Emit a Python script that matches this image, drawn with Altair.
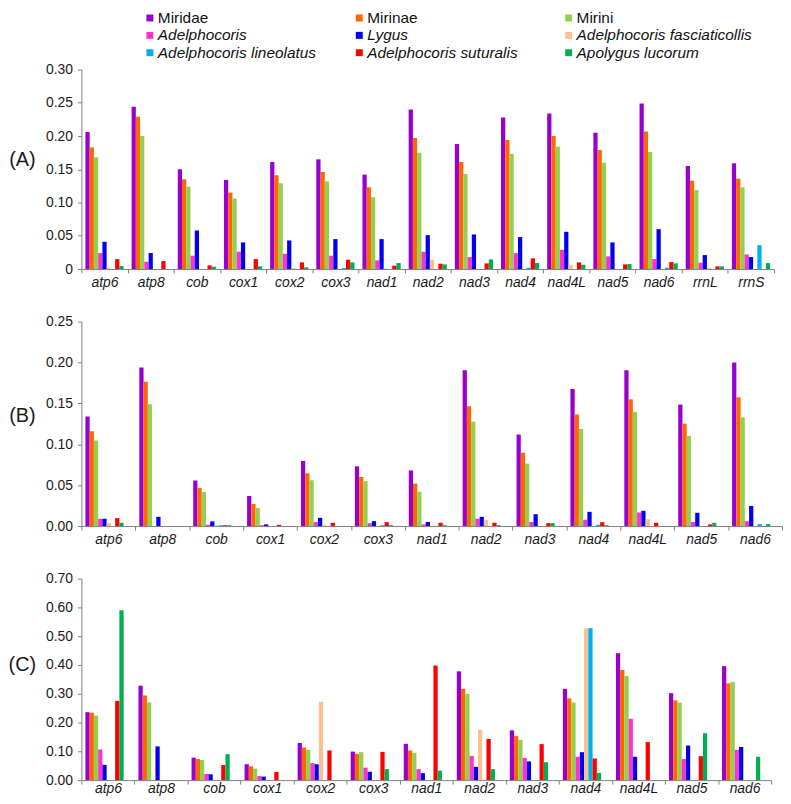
import altair as alt
import pandas as pd

SERIES = ["Miridae", "Mirinae", "Mirini", "Adelphocoris", "Lygus",
          "Adelphocoris fasciaticollis", "Adelphocoris lineolatus",
          "Adelphocoris suturalis", "Apolygus lucorum"]
COLORS = ["#9900cc", "#ff6600", "#92d050", "#ff33cc", "#0000ee",
          "#fac090", "#00b0f0", "#ff0000", "#00b050"]
ITALIC = [False, False, False, True, True, True, True, True, True]
LEG_COL = [0, 1, 2, 0, 1, 2, 0, 1, 2]
LEG_ROW = [0, 0, 0, 1, 1, 1, 2, 2, 2]

GENES_A = ["atp6", "atp8", "cob", "cox1", "cox2", "cox3", "nad1", "nad2", "nad3",
           "nad4", "nad4L", "nad5", "nad6", "rrnL", "rrnS"]
GENES_BC = ["atp6", "atp8", "cob", "cox1", "cox2", "cox3", "nad1", "nad2", "nad3",
            "nad4", "nad4L", "nad5", "nad6"]

# Panel A (one list per series, in gene order)
A_MIRIDAE = [0.206, 0.244, 0.150, 0.134, 0.161, 0.165, 0.142, 0.240, 0.188, 0.228, 0.234, 0.205, 0.249, 0.155, 0.159]
A_MIRINAE = [0.183, 0.229, 0.135, 0.115, 0.141, 0.146, 0.123, 0.197, 0.161, 0.194, 0.200, 0.179, 0.207, 0.133, 0.136]
A_MIRINI = [0.168, 0.200, 0.124, 0.106, 0.129, 0.132, 0.108, 0.175, 0.143, 0.173, 0.184, 0.160, 0.176, 0.119, 0.123]
A_ADEL = [0.024, 0.011, 0.020, 0.026, 0.023, 0.020, 0.013, 0.026, 0.018, 0.024, 0.029, 0.019, 0.015, 0.0095, 0.022]
A_LYGUS = [0.041, 0.024, 0.058, 0.040, 0.043, 0.045, 0.045, 0.051, 0.052, 0.048, 0.056, 0.040, 0.060, 0.021, 0.018]
A_AFASC = [0.002, 0, 0, 0, 0.0015, 0, 0.001, 0.014, 0, 0, 0.0065, 0, 0, 0.002, 0]
A_ALIN = [0, 0, 0, 0, 0, 0.0015, 0, 0, 0, 0.002, 0, 0, 0.002, 0, 0.036]
A_ASUT = [0.015, 0.012, 0.0055, 0.015, 0.010, 0.014, 0.005, 0.008, 0.0085, 0.016, 0.010, 0.007, 0.0105, 0.004, 0]
A_APOL = [0.0045, 0, 0.0035, 0.004, 0.0025, 0.010, 0.009, 0.007, 0.0145, 0.009, 0.0065, 0.0075, 0.0085, 0.004, 0.009]

# Panel B
B_MIRIDAE = [0.134, 0.194, 0.0557, 0.0368, 0.0796, 0.073, 0.068, 0.1906, 0.1119, 0.1676, 0.1906, 0.1486, 0.200]
B_MIRINAE = [0.116, 0.1765, 0.0464, 0.027, 0.0646, 0.060, 0.052, 0.1466, 0.0897, 0.1365, 0.155, 0.1252, 0.1575]
B_MIRINI = [0.1046, 0.149, 0.0416, 0.022, 0.056, 0.055, 0.042, 0.1276, 0.0763, 0.1187, 0.1397, 0.1103, 0.1329]
B_ADEL = [0.0089, 0, 0.0016, 0.001, 0.005, 0.0036, 0.002, 0.0089, 0.005, 0.0077, 0.0166, 0.005, 0.006]
B_LYGUS = [0.0089, 0.0113, 0.0057, 0.002, 0.010, 0.006, 0.005, 0.0113, 0.0145, 0.0174, 0.0186, 0.0162, 0.0246]
B_AFASC = [0.0036, 0, 0.001, 0, 0.001, 0, 0, 0.0077, 0, 0, 0.0085, 0, 0]
B_ALIN = [0, 0, 0.001, 0, 0, 0.001, 0, 0, 0, 0.0016, 0, 0, 0.0024]
B_ASUT = [0.0097, 0, 0.001, 0.0015, 0.004, 0.0048, 0.004, 0.004, 0.0036, 0.0048, 0.004, 0.002, 0]
B_APOL = [0.004, 0, 0.001, 0, 0, 0.001, 0.001, 0.001, 0.0036, 0.001, 0, 0.004, 0.0024]

# Panel C
C_MIRIDAE = [0.236, 0.328, 0.078, 0.055, 0.129, 0.099, 0.126, 0.378, 0.173, 0.317, 0.441, 0.302, 0.396]
C_MIRINAE = [0.234, 0.294, 0.073, 0.048, 0.113, 0.091, 0.103, 0.317, 0.153, 0.284, 0.383, 0.277, 0.336]
C_MIRINI = [0.224, 0.270, 0.070, 0.040, 0.105, 0.097, 0.095, 0.300, 0.140, 0.270, 0.362, 0.269, 0.341]
C_ADEL = [0.106, 0, 0.021, 0.014, 0.059, 0.043, 0.038, 0.084, 0.077, 0.081, 0.213, 0.073, 0.105]
C_LYGUS = [0.053, 0.117, 0.020, 0.012, 0.055, 0.029, 0.024, 0.046, 0.065, 0.097, 0.081, 0.120, 0.115]
C_AFASC = [0, 0, 0, 0, 0.272, 0, 0, 0.174, 0, 0.528, 0, 0, 0]
C_ALIN = [0, 0, 0, 0, 0, 0, 0, 0, 0, 0.528, 0, 0, 0]
C_ASUT = [0.275, 0, 0.052, 0.028, 0.103, 0.098, 0.398, 0.143, 0.125, 0.075, 0.132, 0.083, 0]
C_APOL = [0.590, 0, 0.090, 0, 0, 0.038, 0.033, 0.038, 0.062, 0.025, 0, 0.163, 0.081]

Y_A = [0, 0.05, 0.10, 0.15, 0.20, 0.25, 0.30]
Y_B = [0, 0.05, 0.10, 0.15, 0.20, 0.25]
Y_C = [0, 0.10, 0.20, 0.30, 0.40, 0.50, 0.60, 0.70]

FONT = "Liberation Sans"


def long_df(genes, cols):
    rows = []
    for s, vals in zip(SERIES, cols):
        for g, v in zip(genes, vals):
            rows.append({"gene": g, "series": s, "value": v})
    return pd.DataFrame(rows)


color_enc = alt.Color("series:N", sort=SERIES,
                      scale=alt.Scale(domain=SERIES, range=COLORS), legend=None)


def bars(df, genes, yvals, label, width, height, po, title_y, zero_plain, xlab_pad):
    label_expr = ("datum.value == 0 ? '0' : format(datum.value, '.2f')" if zero_plain
                  else "format(datum.value, '.2f')")
    return alt.Chart(df).mark_bar().encode(
        x=alt.X("gene:N", sort=genes,
                scale=alt.Scale(paddingInner=0, paddingOuter=0),
                axis=alt.Axis(title=None, labelAngle=0, labelFontStyle="italic",
                              labelFontSize=14, tickBand="extent", tickSize=4,
                              labelPadding=xlab_pad)),
        xOffset=alt.XOffset("series:N", sort=SERIES,
                            scale=alt.Scale(paddingInner=0, paddingOuter=po)),
        y=alt.Y("value:Q", scale=alt.Scale(domain=[0, yvals[-1]], nice=False),
                axis=alt.Axis(values=yvals, title=label, titleAngle=0, titleX=-60,
                              titleY=title_y, titleFontSize=20, titleFontWeight="normal",
                              titleAlign="center", titleBaseline="middle",
                              labelExpr=label_expr, grid=False, tickSize=4,
                              labelPadding=5, labelFontSize=14)),
        color=color_enc,
    ).properties(width=width, height=height)


df_a = long_df(GENES_A, [A_MIRIDAE, A_MIRINAE, A_MIRINI, A_ADEL, A_LYGUS, A_AFASC, A_ALIN, A_ASUT, A_APOL])
df_b = long_df(GENES_BC, [B_MIRIDAE, B_MIRINAE, B_MIRINI, B_ADEL, B_LYGUS, B_AFASC, B_ALIN, B_ASUT, B_APOL])
df_c = long_df(GENES_BC, [C_MIRIDAE, C_MIRINAE, C_MIRINI, C_ADEL, C_LYGUS, C_AFASC, C_ALIN, C_ASUT, C_APOL])

leg_df = pd.DataFrame({"series": SERIES, "lx": LEG_COL, "ly": LEG_ROW, "italic": ITALIC})
lx = alt.X("lx:Q", scale=alt.Scale(domain=[0, 2], range=[69, 491]), axis=None)
ly = alt.Y("ly:Q", scale=alt.Scale(domain=[0, 2], range=[-52, -17]), axis=None)

leg_sq = alt.Chart(leg_df).mark_square(size=49, opacity=1).encode(x=lx, y=ly, color=color_enc)
leg_txt_n = alt.Chart(leg_df).transform_filter("!datum.italic").mark_text(
    align="left", baseline="middle", dx=8, fontSize=15.5, font=FONT, color="#111"
).encode(x=lx, y=ly, text="series:N")
leg_txt_i = alt.Chart(leg_df).transform_filter("datum.italic").mark_text(
    align="left", baseline="middle", dx=8, fontSize=15.5, font=FONT, fontStyle="italic", color="#111"
).encode(x=lx, y=ly, text="series:N")

panel_a = alt.layer(
    bars(df_a, GENES_A, Y_A, "(A)", 698, 201, 0.94, 91, True, 3),
    leg_sq, leg_txt_n, leg_txt_i
).resolve_scale(x="independent", y="independent")

panel_b = bars(df_b, GENES_BC, Y_B, "(B)", 706, 206, 0.66, 95, False, 3)
panel_c = bars(df_c, GENES_BC, Y_C, "(C)", 695, 203, 0.66, 87, False, -2)

chart = alt.vconcat(panel_a, panel_b, panel_c, spacing=25).properties(
    padding={"left": 0, "top": 0, "right": 0, "bottom": 0}
).configure_view(stroke=None).configure_axis(
    labelFont=FONT, titleFont=FONT, labelColor="#1a1a1a", titleColor="#1a1a1a",
    domainColor="#808080", tickColor="#808080"
)

chart.save("out.html", embed_options={"renderer": "svg", "actions": False})
